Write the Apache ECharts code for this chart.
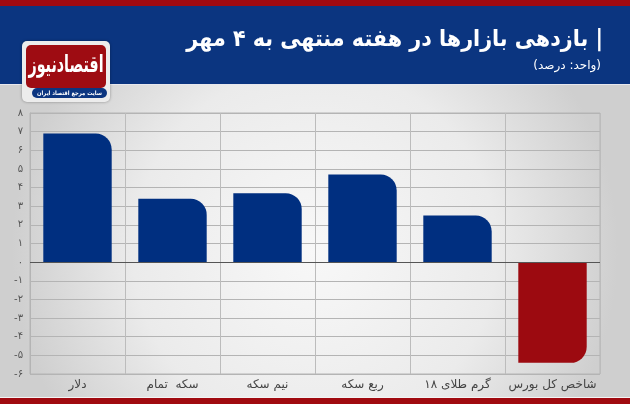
<!DOCTYPE html>
<html>
<head>
<meta charset="utf-8">
<script src="https://cdn.jsdelivr.net/npm/echarts@6/dist/echarts.min.js"></script>
<style>
html,body{margin:0;padding:0;}
#chart{width:630px;height:404px;}
</style>
</head>
<body>
<div id="chart"></div>
<script>
// ---- data ----
var categories = ['دلار', 'سکه  تمام', 'نیم سکه', 'ربع سکه', 'گرم طلای ۱۸', 'شاخص کل بورس'];
var values = [6.9, 3.4, 3.7, 4.7, 2.5, -5.4];
var yTickValues = [-6, -5, -4, -3, -2, -1, 0, 1, 2, 3, 4, 5, 6, 7, 8];
var yTickLabels = ['-۶', '-۵', '-۴', '-۳', '-۲', '-۱', '۰', '۱', '۲', '۳', '۴', '۵', '۶', '۷', '۸'];
var titleText = 'بازدهی بازارها در هفته منتهی به ۴ مهر |';
var subtitleText = '(واحد: درصد)';
var logoText = 'اقتصادنیوز';
var logoSubText = 'سایت مرجع اقتصاد ایران';

var FONT = "'DejaVu Sans', sans-serif";
var chart = echarts.init(document.getElementById('chart'), null, {renderer: 'canvas'});

var barData = values.map(function (v) {
  return {
    value: v,
    itemStyle: v >= 0
      ? {color: '#002f80', borderRadius: [0, 16, 0, 0]}
      : {color: '#9c0a10', borderRadius: [0, 0, 16, 0]}
  };
});

chart.setOption({
  backgroundColor: {
    type: 'radial', x: 0.5, y: 0.62, r: 0.75,
    colorStops: [{offset: 0, color: '#f8f8f8'}, {offset: 0.6, color: '#ebebeb'}, {offset: 1, color: '#cfcfcf'}]
  },
  animation: false,
  textStyle: {fontFamily: FONT},
  grid: {left: 30, right: 30, top: 113, bottom: 30, show: true, borderColor: '#b4b4b4', borderWidth: 1, backgroundColor: 'transparent'},
  xAxis: {
    type: 'category',
    data: categories,
    axisLine: {show: false, onZero: false},
    axisTick: {show: false},
    splitLine: {show: true, lineStyle: {color: '#bcbcbc', width: 1}},
    axisLabel: {color: '#444', fontSize: 12, margin: 5, fontFamily: FONT, interval: 0}
  },
  yAxis: {
    type: 'value',
    min: -6, max: 8, interval: 1,
    axisLine: {show: true, lineStyle: {color: '#b4b4b4'}},
    axisTick: {show: false},
    splitLine: {show: true, lineStyle: {color: '#b4b4b4', width: 1}},
    axisLabel: {
      color: '#555', fontSize: 10, margin: 7, fontFamily: FONT,
      formatter: function (v) {
        var i = yTickValues.indexOf(v);
        return i >= 0 ? yTickLabels[i] : '';
      }
    }
  },
  series: [{
    type: 'bar',
    data: barData,
    barWidth: '72%',
    markLine: {
      silent: true,
      symbol: 'none',
      label: {show: false},
      lineStyle: {color: '#555', width: 1, type: 'solid'},
      data: [{yAxis: 0}]
    }
  }],
  graphic: [
    {type: 'rect', left: 0, top: 0, shape: {width: 630, height: 6}, style: {fill: '#a00a10'}, z: 10},
    {type: 'rect', left: 0, top: 6, shape: {width: 630, height: 78}, style: {fill: '#0b3580'}, z: 10},
    {type: 'rect', left: 0, top: 84, shape: {width: 630, height: 1}, style: {fill: '#e8e8ee'}, z: 10},
    {type: 'rect', left: 0, top: 398, shape: {width: 630, height: 6}, style: {fill: '#a00a10'}, z: 10},
    {type: 'rect', left: 0, top: 397, shape: {width: 630, height: 1}, style: {fill: '#f4f4f4'}, z: 10},
    {type: 'rect', left: 22, top: 41, shape: {width: 88, height: 61, r: 5}, style: {fill: '#ececec', shadowBlur: 3, shadowColor: 'rgba(0,0,0,0.35)'}, z: 11},
    {type: 'rect', left: 26, top: 45, shape: {width: 80, height: 43, r: 5}, style: {fill: '#9e0c12'}, z: 12},
    {type: 'text', x: 66, y: 66, scaleX: 0.95, scaleY: 1.55, originX: 0, originY: 0,
      style: {text: logoText, fill: '#ffffff', font: 'bold 15px ' + FONT, align: 'center', verticalAlign: 'middle'}, z: 13},
    {type: 'rect', left: 32, top: 88, shape: {width: 75, height: 10, r: 5}, style: {fill: '#0b3580'}, z: 12},
    {type: 'text', x: 69.5, y: 93.5, scaleX: 0.88, originX: 0, originY: 0,
      style: {text: logoSubText, fill: '#ffffff', font: 'bold 6px ' + FONT, align: 'center', verticalAlign: 'middle'}, z: 13},
    {type: 'text', x: 603, y: 40, scaleX: 0.9, originX: 0, originY: 0,
      style: {text: titleText, fill: '#ffffff', font: 'bold 23px ' + FONT, align: 'right', verticalAlign: 'middle'}, z: 13},
    {type: 'text', x: 601, y: 66,
      style: {text: subtitleText, fill: '#ffffff', font: '12px ' + FONT, align: 'right', verticalAlign: 'middle'}, z: 13}
  ]
});
</script>
</body>
</html>
